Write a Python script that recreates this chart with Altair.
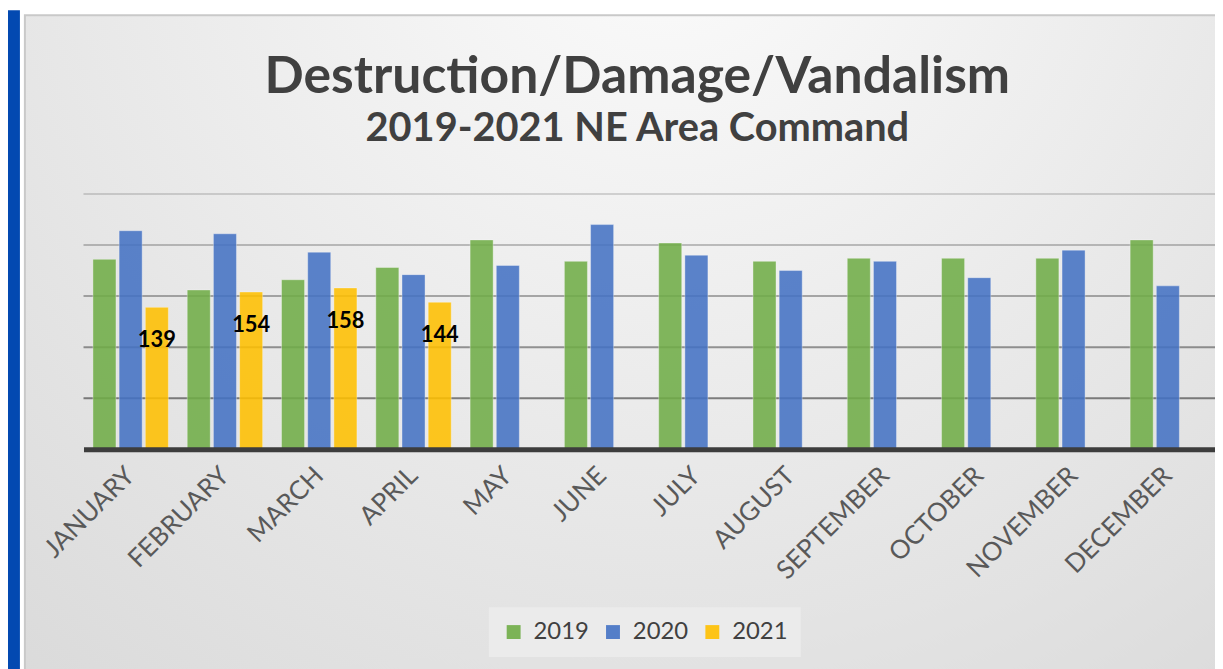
import altair as alt
import pandas as pd

MONTHS = ["JANUARY", "FEBRUARY", "MARCH", "APRIL", "MAY", "JUNE", "JULY",
          "AUGUST", "SEPTEMBER", "OCTOBER", "NOVEMBER", "DECEMBER"]
YEARS = ["2019", "2020", "2021"]
V2019 = [186, 156, 166, 178, 205, 184, 202, 184, 187, 187, 187, 205]
V2020 = [214, 211, 193, 171, 180, 220, 190, 175, 184, 168, 195, 160]
V2021 = [139, 154, 158, 144]
COLORS = ["#70ad47", "#4472c4", "#ffc000"]
GRID_TICKS = [50, 100, 150, 200, 250]
TITLE = "Destruction/Damage/Vandalism"
SUBTITLE = "2019-2021 NE Area Command"

W = 1139
H = 257

rows = []
for yr, vals in zip(YEARS, [V2019, V2020, V2021]):
    for m, v in zip(MONTHS, vals):
        rows.append({"month": m, "year": yr, "value": v})
df = pd.DataFrame(rows)
lab_df = df[df["year"] == "2021"]
grid_df = pd.DataFrame({"v": GRID_TICKS})

y_scale = alt.Scale(domain=[0, 250], nice=False)

x_enc = alt.X(
    "month:N", sort=MONTHS,
    scale=alt.Scale(paddingInner=0.2, paddingOuter=0.1),
    axis=alt.Axis(title=None, labelAngle=-45, labelAlign="right",
                  labelBaseline="middle", labelFont="Lato", labelFontSize=26,
                  labelColor="#595959", labelPadding=22, ticks=False,
                  domainColor="#3d3d3d", domainWidth=5, grid=False, zindex=1),
)
xo_enc = alt.XOffset("year:N", sort=YEARS, scale=alt.Scale(paddingInner=0.12))

# chart-area decoration (Excel chart frame with gradient and window strip)
bg = alt.Chart(alt.Data(values=[{}])).mark_rect(
    fill={
        "gradient": "radial",
        "x1": 0.52, "y1": 0.12, "r1": 0,
        "x2": 0.52, "y2": 0.12, "r2": 1.0,
        "stops": [
            {"offset": 0, "color": "#fcfcfc"},
            {"offset": 1, "color": "#d3d3d3"},
        ],
    },
    stroke="#c9c9c9", strokeWidth=2,
).encode(x=alt.value(-59), x2=alt.value(W + 40), y=alt.value(-180), y2=alt.value(H + 260))

strip = alt.Chart(alt.Data(values=[{}])).mark_rect(color="#0349b1").encode(
    x=alt.value(-76), x2=alt.value(-64), y=alt.value(-185), y2=alt.value(H + 260)
)

grid = alt.Chart(grid_df).mark_rule(color="black", strokeWidth=2).encode(
    y=alt.Y("v:Q", scale=y_scale, axis=None),
    opacity=alt.Opacity("v:Q", scale=alt.Scale(domain=[50, 250], range=[0.47, 0.14]), legend=None),
)

bars = alt.Chart(df).mark_bar(opacity=0.87, stroke="white", strokeWidth=0.8, strokeOpacity=0.45).encode(
    x=x_enc,
    xOffset=xo_enc,
    y=alt.Y("value:Q", scale=y_scale, axis=None),
    color=alt.Color(
        "year:N", sort=YEARS,
        scale=alt.Scale(domain=YEARS, range=COLORS),
        legend=alt.Legend(title=None, orient="none", legendX=408, legendY=416,
                          direction="horizontal", symbolType="square", symbolSize=196,
                          symbolStrokeWidth=0, symbolOpacity=0.9, labelFont="Lato",
                          labelFontSize=24, labelColor="#404040", labelOffset=8,
                          columnPadding=12, padding=13, fillColor="#ebebeb", zindex=1),
    ),
)

labels = alt.Chart(lab_df).mark_text(
    font="Lato", fontSize=22, fontWeight="bold", color="black", dy=33, baseline="middle"
).encode(
    x=x_enc,
    xOffset=xo_enc,
    y=alt.Y("value:Q", scale=y_scale, axis=None),
    text="value:Q",
)

chart = alt.layer(bg, strip, grid, bars, labels).properties(
    width=W, height=H,
    autosize=alt.AutoSizeParams(type="none"),
    padding={"left": 76, "top": 185, "right": 0, "bottom": 219},
    background="white",
    title=alt.TitleParams(
        text=TITLE, subtitle=SUBTITLE, font="Lato", fontSize=52, fontWeight="bold",
        color="#404040", subtitleFont="Lato", subtitleFontSize=40,
        subtitleFontWeight="bold", subtitleColor="#404040", anchor="middle",
        dx=-12, dy=141, offset=0, subtitlePadding=6, zindex=1,
    ),
).configure_view(stroke=None)

chart.save("out.html", embed_options={"renderer": "svg", "actions": False})
